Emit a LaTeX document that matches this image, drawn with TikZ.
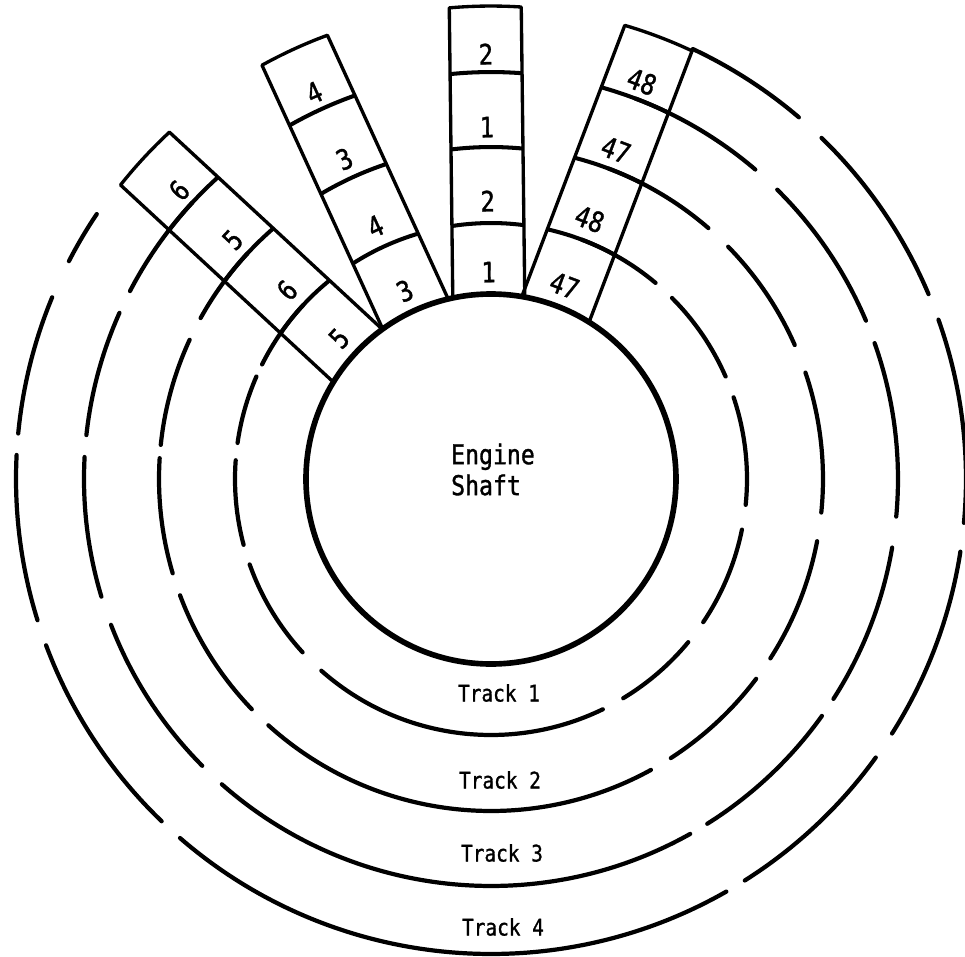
\documentclass[tikz,border=0pt]{standalone}
\usepackage{fontspec}
\newfontfamily\lblfont[FakeStretch=0.85,FakeBold=1.2]{DejaVu Sans Mono}
\newcommand\drawstrip[6]{%
  \begin{scope}[rotate=#2]
    \draw[edgeline] (18.146,3.6) -- (47.163,3.6)
      arc[start angle=4.365, end angle=-4.365, radius=47.3] -- (18.146,-3.6);
    \draw[divline] (-5.07:40.7) arc[start angle=-5.07, end angle=5.07, radius=40.7];
    \draw[divline] (-6.23:33.2) arc[start angle=-6.23, end angle=6.23, radius=33.2];
    \draw[divline] (-8.08:25.6) arc[start angle=-8.08, end angle=8.08, radius=25.6];
    \node[cell, rotate=#2-90] (#1a) at (20.7,0) {#3};
    \node[cell, rotate=#2-90] (#1b) at (27.8,0) {#4};
    \node[cell, rotate=#2-90] (#1c) at (35.2,0) {#5};
    \node[cell, rotate=#2-90] (#1d) at (42.5,0) {#6};
  \end{scope}}
\begin{document}
\begin{tikzpicture}[scale=0.2,
  ringline/.style={line width=2.4pt, line cap=round},
  edgeline/.style={line width=1.9pt, line cap=round, line join=round},
  divline/.style={line width=2.3pt},
  shaftline/.style={line width=3.2pt},
  cell/.style={font=\lblfont\fontsize{16}{16}\selectfont, inner sep=0pt},
  track/.style={font=\lblfont\fontsize{13}{13}\selectfont, inner sep=0pt},
  eng/.style={font=\lblfont\fontsize{15.5}{17.6}\selectfont, align=left, inner sep=0pt}]
\useasboundingbox (-49.1,-47.7) rectangle (47.4,47.9);

% tracks (dashed rings)
\foreach \a/\b in {69.2/50, 45/23.6, 18.6/-5.8, -11.4/-34, -39.6/-58.9, -64.1/-131.5, -137.4/-160.5, -165.1/-184.2, -188.1/-203.6, -206.6/-222.8}
  \draw[ringline] (\a:25.6) arc[start angle=\a, end angle=\b, radius=25.6];
\foreach \a/\b in {69.2/49.1, 44.4/23.8, 18.7/-5.8, -10.8/-32.7, -37/-57.2, -61.2/-132.1, -136.1/-159.5, -163.5/-183.6, -185.9/-204.8, -209/-222.8}
  \draw[ringline] (\a:33.2) arc[start angle=\a, end angle=\b, radius=33.2];
\foreach \a/\b in {69.2/49.5, 45.3/22.9, 19.5/-5.3, -9.7/-32.7, -35.6/-57.9, -60.7/-131.4, -135.2/-159, -163.2/-183.1, -186.2/-204.1, -207.5/-222.8}
  \draw[ringline] (\a:40.7) arc[start angle=\a, end angle=\b, radius=40.7];
\foreach \a/\b in {64.85/49.6, 45.9/22.9, 19.6/-5.3, -8.8/-32.4, -35.9/-57.7, -60.3/-130.9, -133.9/-159.5, -162.7/-182.9, -185.5/-202.5, -207.3/-213.9}
  \draw[ringline] (\a:47.5) arc[start angle=\a, end angle=\b, radius=47.5];

% strips of cells
\drawstrip{sa}{137.2}{5}{6}{5}{6}
\drawstrip{sb}{114.6}{3}{4}{3}{4}
\drawstrip{sc}{90.7}{1}{2}{1}{2}
\drawstrip{sd}{69.2}{47}{48}{47}{48}

% engine shaft
\draw[shaftline] (0,0) circle[radius=18.5];
\node[eng] (shaft) at (0.2,0.95) {Engine\\Shaft};

% track labels
\node[track] (t1) at (0.8,-21.4) {Track 1};
\node[track] (t2) at (0.9,-30.1) {Track 2};
\node[track] (t3) at (1.1,-37.4) {Track 3};
\node[track] (t4) at (1.2,-44.8) {Track 4};
\end{tikzpicture}
\end{document}
